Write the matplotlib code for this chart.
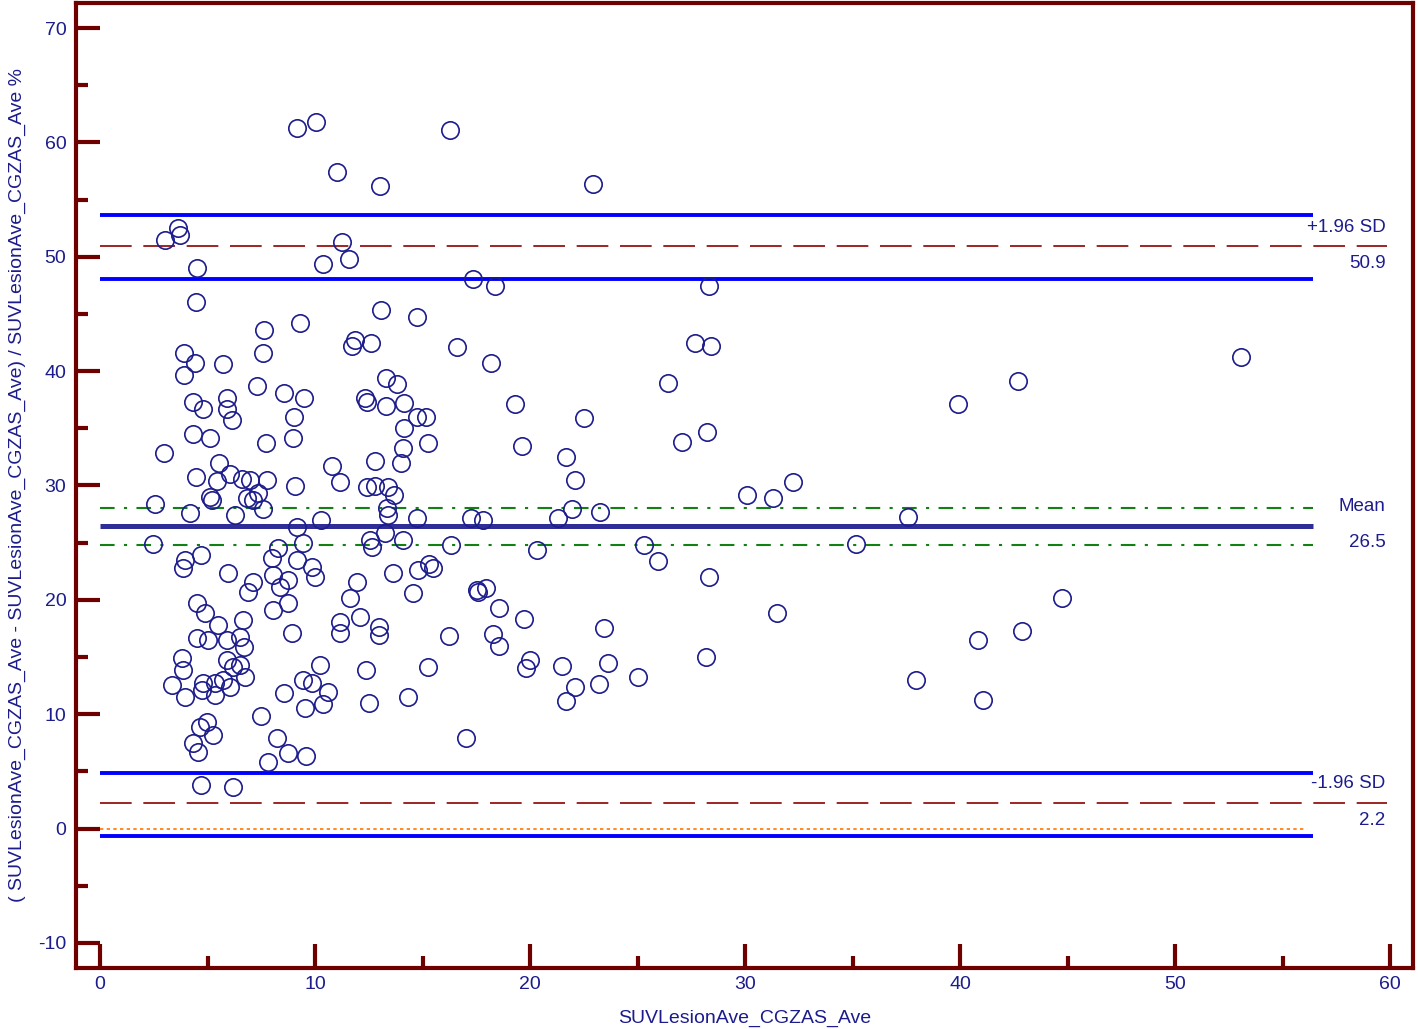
import matplotlib.pyplot as plt
from matplotlib.ticker import MultipleLocator

# mean of the two methods (x) and relative difference in % (y)
avg = [2.47, 2.56, 2.98, 3.02, 3.63, 3.72, 4.51, 4.47, 7.63, 7.58,
       3.91, 4.42, 3.91, 5.72, 7.30, 8.56, 4.33, 4.79, 5.91, 5.91,
       6.14, 4.33, 5.12, 7.72, 5.53, 4.47, 5.44, 6.05, 6.60, 6.98,
       7.77, 5.21, 5.12, 6.84, 7.12, 7.35, 7.58, 4.19, 6.28, 9.07,
       10.79, 11.16, 12.42, 12.79, 12.79, 9.16, 10.28, 4.70, 3.95, 3.86,
       8.28, 8.00, 9.44, 9.16, 9.86, 10.00, 12.56, 12.65, 5.95, 7.12,
       6.88, 8.05, 8.74, 8.37, 8.74, 8.05, 11.95, 11.63, 12.09, 12.98,
       12.98, 11.16, 11.16, 4.51, 4.88, 5.49, 6.65, 4.51, 5.02, 5.91,
       6.51, 6.70, 8.93, 3.81, 3.86, 5.91, 6.19, 6.51, 6.74, 3.35,
       3.95, 4.79, 4.74, 5.35, 5.35, 6.05, 5.72, 9.44, 9.86, 10.23,
       10.60, 10.37, 9.53, 8.56, 12.37, 12.51, 7.49, 4.65, 4.98, 5.26,
       4.33, 4.56, 8.23, 8.74, 9.58, 7.81, 4.70, 6.19, 11.26, 10.37,
       11.58, 13.07, 9.30, 11.86, 11.72, 12.60, 9.49, 9.02, 8.98, 12.33,
       12.42, 13.30, 13.30, 17.35, 14.74, 16.60, 13.81, 14.14, 14.74, 15.16,
       14.14, 15.26, 14.09, 14.00, 13.40, 13.67, 13.35, 13.40, 13.26, 14.74,
       17.26, 14.09, 16.33, 13.63, 14.79, 15.30, 15.49, 14.56, 17.53, 16.23,
       15.26, 14.33, 17.02, 18.37, 28.33, 27.67, 28.42, 18.19, 26.42, 19.30,
       22.51, 28.23, 19.63, 27.07, 21.67, 22.09, 30.09, 17.81, 21.30, 21.95,
       23.26, 20.33, 25.30, 25.95, 28.33, 17.58, 17.95, 18.56, 19.72, 18.28,
       18.56, 23.44, 20.00, 19.81, 21.49, 23.63, 28.19, 25.02, 22.09, 23.21,
       21.67, 31.30, 32.23, 31.49, 35.16, 37.58, 37.95, 39.91, 40.84, 41.07,
       42.70, 42.88, 44.74, 53.07, 9.16, 10.05, 11.02, 13.02, 16.28, 22.93]
diff_pct = [24.90, 28.39, 32.85, 51.47, 52.52, 51.91, 49.02, 46.05, 43.60, 41.59,
            41.59, 40.72, 39.67, 40.63, 38.71, 38.10, 37.31, 36.70, 37.66, 36.70,
            35.73, 34.51, 34.16, 33.72, 31.97, 30.75, 30.40, 31.01, 30.58, 30.49,
            30.49, 28.74, 29.00, 28.92, 28.74, 29.35, 27.96, 27.61, 27.43, 29.96,
            31.71, 30.31, 29.88, 29.96, 32.15, 26.38, 27.00, 23.94, 23.50, 22.80,
            24.54, 23.67, 24.98, 23.50, 22.88, 22.01, 25.24, 24.63, 22.36, 21.57,
            20.70, 22.19, 21.75, 21.14, 19.74, 19.13, 21.57, 20.18, 18.51, 17.64,
            16.94, 18.08, 17.12, 19.74, 18.86, 17.82, 18.25, 16.68, 16.50, 16.50,
            16.77, 15.89, 17.12, 14.93, 13.88, 14.75, 14.14, 14.32, 13.27, 12.57,
            11.52, 12.75, 12.13, 11.70, 12.75, 12.40, 13.01, 13.01, 12.75, 14.32,
            11.96, 10.91, 10.56, 11.87, 13.88, 11.00, 9.86, 8.90, 9.34, 8.20,
            7.50, 6.71, 7.94, 6.63, 6.36, 5.84, 3.83, 3.65, 51.30, 49.37,
            49.81, 45.35, 44.21, 42.73, 42.20, 42.47, 37.66, 36.00, 34.16, 37.66,
            37.31, 39.41, 36.96, 48.06, 44.74, 42.12, 38.88, 37.22, 36.00, 36.00,
            35.04, 33.72, 33.29, 31.97, 29.88, 29.18, 28.04, 27.43, 25.86, 27.17,
            27.17, 25.24, 24.81, 22.36, 22.62, 23.15, 22.80, 20.61, 20.87, 16.85,
            14.14, 11.52, 7.94, 47.45, 47.45, 42.47, 42.20, 40.72, 38.97, 37.13,
            35.91, 34.69, 33.46, 33.81, 32.50, 30.49, 29.18, 27.00, 27.17, 27.96,
            27.69, 24.37, 24.81, 23.41, 22.01, 20.70, 21.05, 19.30, 18.34, 17.03,
            15.98, 17.55, 14.75, 14.06, 14.23, 14.49, 15.02, 13.27, 12.40, 12.66,
            11.17, 28.92, 30.31, 18.86, 24.90, 27.26, 13.01, 37.13, 16.50, 11.26,
            39.14, 17.29, 20.18, 41.24, 61.26, 61.78, 57.41, 56.19, 61.08, 56.36]

mean_diff = 26.5
upper_loa = 50.9
lower_loa = 2.2
mean_ci = [24.8, 28.05]
upper_ci = [48.06, 53.65]
lower_ci = [-0.63, 4.88]
line_end = 56.4
dash_end = 59.85

plt.rcParams['font.family'] = ['Liberation Sans', 'DejaVu Sans']
plt.rcParams['axes.unicode_minus'] = False

navy = '#1c1c8c'
maroon = '#6e0000'

fig = plt.figure(figsize=(14.18, 10.29), dpi=100)
ax = fig.add_axes([0.0536, 0.0593, 0.9429, 0.9378])

# CI of the limits of agreement
for v in upper_ci + lower_ci:
    ax.plot([0, line_end], [v, v], color='#0000ff', lw=2.8, solid_capstyle='butt')
# limits of agreement
for v in [upper_loa, lower_loa]:
    ax.plot([0, dash_end], [v, v], color='#8b0000', lw=1.2, ls=(0, (19, 7)))
# CI of mean
for v in mean_ci:
    ax.plot([0, line_end], [v, v], color='#138013', lw=1.5, ls=(0, (7, 4.5, 1.5, 4.5)))
# line of equality
ax.plot([0, line_end - 0.3], [0, 0], color='#ff7700', lw=1.2, ls=(0, (2, 2)))
# mean difference
ax.plot([0, line_end], [mean_diff, mean_diff], color='#2e2e96', lw=3.6, solid_capstyle='butt')

ax.plot(avg, diff_pct, 'o', mfc='none', mec=navy, ms=12.5, mew=1.2, ls='none')

# labels at the right end of the lines
lab_x = 59.8
for y, top, bottom in [(upper_loa, '+1.96 SD', f'{upper_loa:.1f}'),
                       (mean_diff, 'Mean', f'{mean_diff:.1f}'),
                       (lower_loa, '-1.96 SD', f'{lower_loa:.1f}')]:
    ax.annotate(top, (lab_x, y), xytext=(0, 14), textcoords='offset points',
                ha='right', va='center', color=navy, fontsize=13.5)
    ax.annotate(bottom, (lab_x, y), xytext=(0, -12.5), textcoords='offset points',
                ha='right', va='center', color=navy, fontsize=13.5)

ax.set_xlim(-1.116, 61.07)
ax.set_ylim(-12.19, 72.19)
ax.xaxis.set_major_locator(MultipleLocator(10))
ax.xaxis.set_minor_locator(MultipleLocator(5))
ax.yaxis.set_major_locator(MultipleLocator(10))
ax.yaxis.set_minor_locator(MultipleLocator(5))

ax.tick_params(which='major', direction='in', length=17, width=3, color=maroon,
               labelcolor=navy, labelsize=14)
ax.tick_params(which='minor', direction='in', length=8.5, width=3, color=maroon)
ax.tick_params(axis='y', pad=7)
ax.tick_params(axis='x', pad=6)

for s in ax.spines.values():
    s.set_color(maroon)
    s.set_linewidth(3)

ax.set_xlabel('SUVLesionAve_CGZAS_Ave', color=navy, fontsize=14, labelpad=12)
ax.set_ylabel('( SUVLesionAve_CGZAS_Ave - SUVLesionAve_CGZAS_Ave) / SUVLesionAve_CGZAS_Ave %',
              color=navy, fontsize=14, labelpad=9)

fig.savefig('out.png', dpi=100)
